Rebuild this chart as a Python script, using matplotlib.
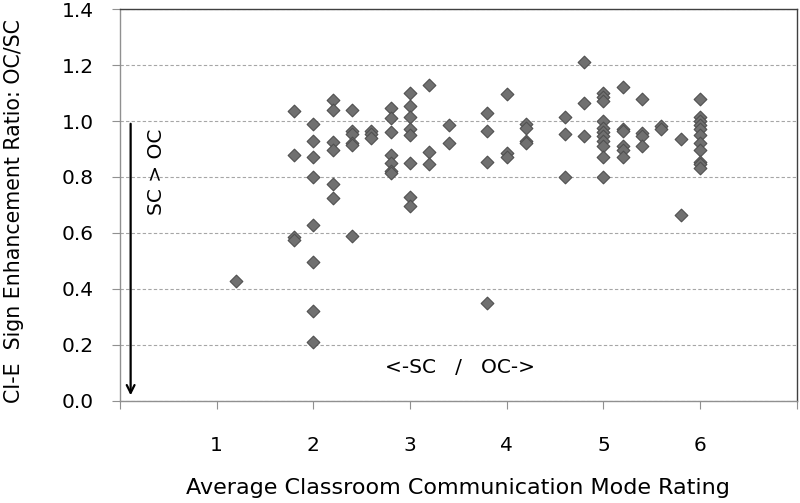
import numpy as np
import matplotlib
matplotlib.use('Agg')
import matplotlib.pyplot as plt

plt.rcParams['font.family'] = ['DejaVu Sans']

# Data (x = mode rating, y = OC/SC ratio)
x_vals = [1.2,
          1.8, 1.8, 1.8, 1.8,
          2.0, 2.0, 2.0, 2.0, 2.0, 2.0, 2.0, 2.0,
          2.2, 2.2, 2.2, 2.2, 2.2, 2.2,
          2.4, 2.4, 2.4, 2.4, 2.4, 2.4,
          2.6, 2.6, 2.6,
          2.8, 2.8, 2.8, 2.8, 2.8, 2.8, 2.8,
          3.0, 3.0, 3.0, 3.0, 3.0, 3.0, 3.0, 3.0,
          3.2, 3.2, 3.2,
          3.4, 3.4,
          3.8, 3.8, 3.8, 3.8,
          4.0, 4.0, 4.0,
          4.2, 4.2, 4.2, 4.2,
          4.6, 4.6, 4.6,
          4.8, 4.8, 4.8,
          5.0, 5.0, 5.0, 5.0, 5.0, 5.0, 5.0, 5.0, 5.0, 5.0, 5.0,
          5.2, 5.2, 5.2, 5.2, 5.2, 5.2,
          5.4, 5.4, 5.4, 5.4,
          5.6, 5.6,
          5.8, 5.8,
          6.0, 6.0, 6.0, 6.0, 6.0, 6.0, 6.0, 6.0, 6.0, 6.0, 6.0]
y_vals = [0.43,
          1.035, 0.88, 0.585, 0.575,
          0.99, 0.93, 0.87, 0.80, 0.63, 0.495, 0.32, 0.21,
          1.075, 1.04, 0.925, 0.895, 0.775, 0.725,
          1.04, 0.965, 0.955, 0.92, 0.915, 0.59,
          0.965, 0.955, 0.94,
          1.045, 1.01, 0.96, 0.88, 0.85, 0.82, 0.815,
          1.10, 1.055, 1.015, 0.97, 0.95, 0.85, 0.73, 0.695,
          1.13, 0.89, 0.845,
          0.985, 0.92,
          1.03, 0.965, 0.855, 0.35,
          1.095, 0.885, 0.87,
          0.99, 0.975, 0.93, 0.92,
          1.015, 0.955, 0.80,
          1.21, 1.065, 0.945,
          1.10, 1.085, 1.07, 1.0, 0.975, 0.96, 0.945, 0.93, 0.91, 0.87, 0.80,
          1.12, 0.973, 0.963, 0.912, 0.898, 0.87,
          1.08, 0.957, 0.945, 0.91,
          0.982, 0.97,
          0.935, 0.665,
          1.078, 1.013, 1.0, 0.985, 0.97, 0.951, 0.92, 0.895, 0.855, 0.845, 0.833]

x_ticks = [0, 1, 2, 3, 4, 5, 6, 7]
x_tick_labels = ['', '1', '2', '3', '4', '5', '6', '']
y_ticks = [0.0, 0.2, 0.4, 0.6, 0.8, 1.0, 1.2, 1.4]

fig = plt.figure(figsize=(8, 5.03), dpi=100)
ax = fig.add_axes([0.15, 0.203, 0.846, 0.779])

ax.scatter(x_vals, y_vals, marker='D', s=42, color='#707070',
           edgecolors='#505050', linewidths=0.8, zorder=3)

ax.set_xlim(0, 7)
ax.set_ylim(0, 1.4)
ax.set_xticks(x_ticks)
ax.set_xticklabels(x_tick_labels)
ax.set_yticks(y_ticks)
ax.set_yticklabels([f'{v:.1f}' for v in y_ticks])

ax.grid(axis='y', linestyle=(0, (3, 2)), color='#a6a6a6', linewidth=0.8)
ax.set_axisbelow(True)

for side in ['left', 'bottom']:
    ax.spines[side].set_color('#909090')
    ax.spines[side].set_linewidth(1.0)
for side in ['top', 'right']:
    ax.spines[side].set_color('#404040')
    ax.spines[side].set_linewidth(1.0)

ax.tick_params(axis='x', direction='out', length=6, color='#909090',
               pad=19, labelsize=14.5)
ax.tick_params(axis='y', direction='out', length=6, color='#909090',
               pad=13, labelsize=14.5)

ax.set_xlabel('Average Classroom Communication Mode Rating', fontsize=16)
ax.xaxis.set_label_coords(0.5, -0.198)
ax.set_ylabel('CI-E  Sign Enhancement Ratio: OC/SC', fontsize=14.8)
ax.yaxis.set_label_coords(-0.142, 0.485)

# arrow and annotations
ax.annotate('', xy=(0.11, 0.01), xytext=(0.11, 1.0),
            arrowprops=dict(arrowstyle='->', color='black', lw=1.6,
                            mutation_scale=14))
ax.text(0.38, 0.82, 'SC > OC', rotation=90, ha='center', va='center', fontsize=14.5)
ax.text(3.52, 0.12, '<-SC   /   OC->', ha='center', va='center', fontsize=14.5)

plt.savefig('out.png', dpi=100)
